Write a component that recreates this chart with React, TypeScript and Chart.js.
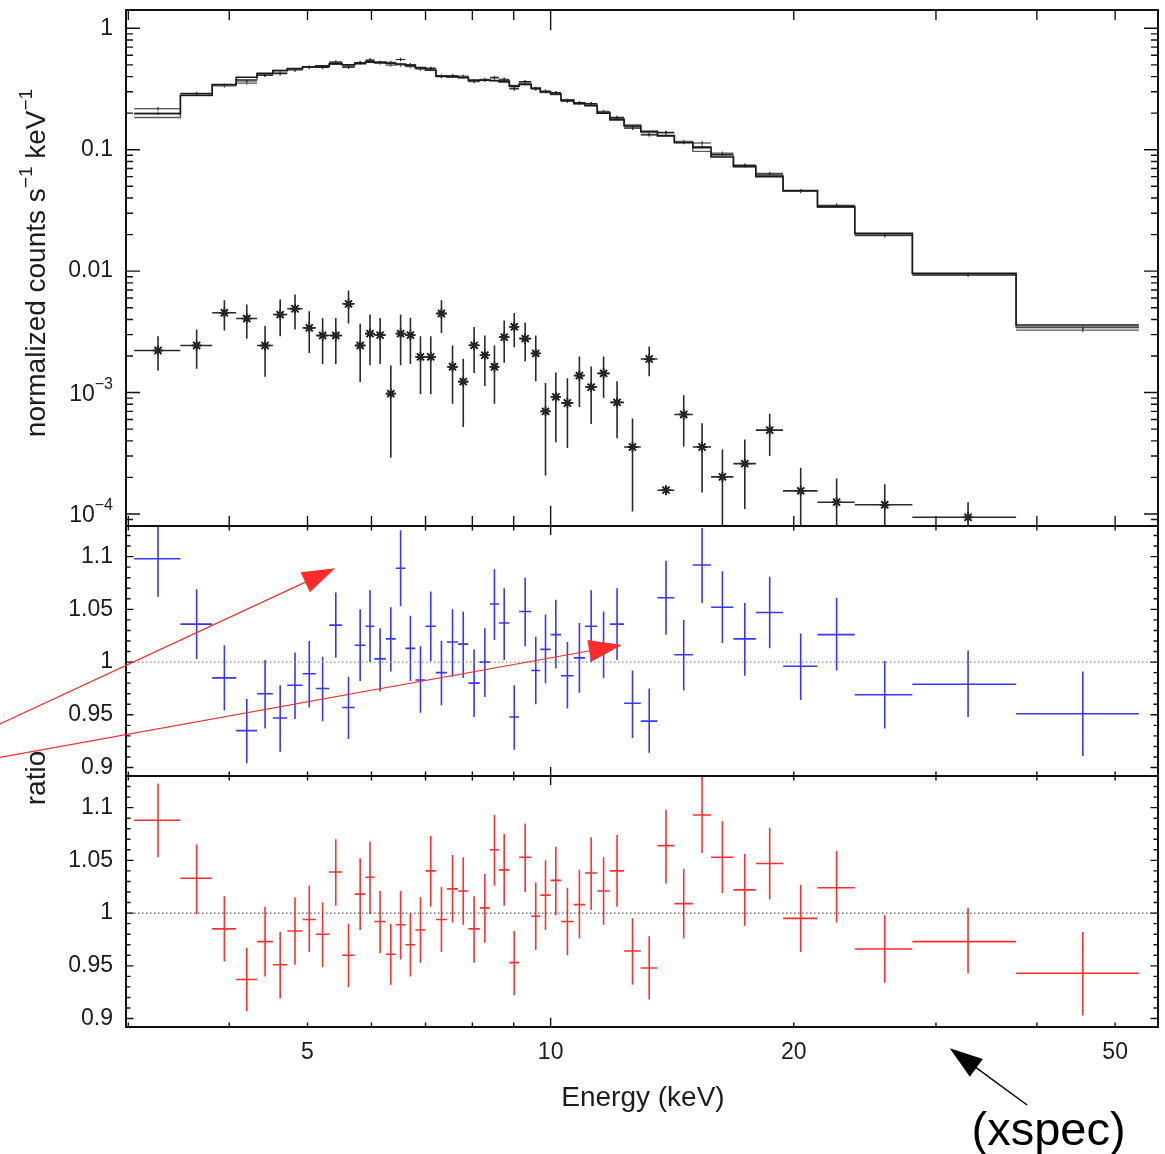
import React, { useEffect, useRef } from 'react';
import { Chart, registerables } from 'chart.js';

Chart.register(...registerables);

const FONT = '"Liberation Sans", Arial, Helvetica, sans-serif';

// ---------------- data (energy bins in keV) ----------------
const binEdges = [
  3.05, 3.48, 3.81, 4.08, 4.33, 4.53, 4.72, 4.93, 5.12, 5.32, 5.52, 5.72, 5.9, 6.05, 6.25, 6.43,
  6.61, 6.8, 7.0, 7.21, 7.44, 7.68, 7.91, 8.17, 8.41, 8.63, 8.89, 9.14, 9.46, 9.71, 10.0, 10.3,
  10.68, 11.03, 11.42, 11.84, 12.33, 12.93, 13.56, 14.23, 15.0, 15.8, 16.84, 17.95, 19.4, 21.4,
  23.8, 28.05, 37.7, 53.5,
];

// folded model, spectrum A and B (normalized counts s^-1 keV^-1)
const modelA = [
  0.198, 0.281, 0.344, 0.395, 0.425, 0.447, 0.467, 0.482, 0.488, 0.51, 0.5, 0.514, 0.527, 0.524,
  0.514, 0.508, 0.495, 0.474, 0.453, 0.404, 0.399, 0.392, 0.374, 0.374, 0.37, 0.367, 0.334, 0.347,
  0.319, 0.3, 0.288, 0.255, 0.242, 0.232, 0.2, 0.178, 0.157, 0.142, 0.131, 0.114, 0.104, 0.087,
  0.073, 0.06, 0.046, 0.034, 0.0205, 0.0096, 0.0036,
];
const modelB = [
  0.184, 0.279, 0.34, 0.378, 0.423, 0.452, 0.462, 0.48, 0.492, 0.505, 0.502, 0.51, 0.53, 0.52,
  0.518, 0.505, 0.498, 0.47, 0.45, 0.408, 0.396, 0.395, 0.37, 0.378, 0.372, 0.36, 0.338, 0.342,
  0.322, 0.296, 0.285, 0.258, 0.238, 0.23, 0.203, 0.175, 0.16, 0.139, 0.129, 0.116, 0.097, 0.089,
  0.072, 0.061, 0.0455, 0.0335, 0.0203, 0.0095, 0.00347,
];

// data / model ratio, spectrum A (blue)
const ratioA = [
  1.098, 1.036, 0.985, 0.935, 0.97, 0.947, 0.978, 0.989, 0.975, 1.035, 0.957, 1.016, 1.034, 1.003,
  1.022, 1.089, 1.013, 0.983, 1.034, 0.99, 1.019, 1.017, 0.98, 1.0, 1.055, 1.037, 0.948, 1.048,
  0.992, 1.012, 1.026, 0.987, 1.004, 1.034, 1.017, 1.036, 0.961, 0.944, 1.061, 1.007, 1.092, 1.052,
  1.022, 1.047, 0.996, 1.026, 0.969, 0.979, 0.951,
];
const ratioALo = [
  1.062, 1.003, 0.954, 0.904, 0.937, 0.915, 0.946, 0.957, 0.944, 1.004, 0.927, 0.982, 1.0, 0.972,
  0.991, 1.053, 0.982, 0.952, 1.001, 0.959, 0.986, 0.985, 0.948, 0.967, 1.021, 1.002, 0.917, 1.015,
  0.96, 0.98, 0.994, 0.956, 0.971, 1.0, 0.985, 1.002, 0.928, 0.914, 1.026, 0.973, 1.056, 1.018,
  0.987, 1.013, 0.964, 0.992, 0.937, 0.948, 0.911,
];
const ratioAHi = [
  1.135, 1.069, 1.016, 0.965, 1.002, 0.978, 1.009, 1.02, 1.005, 1.066, 0.986, 1.05, 1.068, 1.032,
  1.052, 1.125, 1.044, 1.015, 1.067, 1.02, 1.05, 1.048, 1.012, 1.032, 1.088, 1.07, 0.978, 1.08,
  1.024, 1.045, 1.059, 1.019, 1.037, 1.068, 1.048, 1.07, 0.992, 0.975, 1.096, 1.04, 1.127, 1.086,
  1.056, 1.081, 1.027, 1.061, 1.001, 1.011, 0.991,
];

// data / model ratio, spectrum B (red)
const ratioB = [
  1.088, 1.033, 0.985, 0.937, 0.973, 0.951, 0.983, 0.994, 0.98, 1.039, 0.96, 1.018, 1.034, 0.992,
  0.961, 0.989, 0.97, 0.984, 1.04, 0.994, 1.023, 1.021, 0.985, 1.005, 1.06, 1.041, 0.953, 1.053,
  0.997, 1.017, 1.031, 0.992, 1.008, 1.038, 1.021, 1.04, 0.964, 0.948, 1.064, 1.009, 1.093, 1.053,
  1.022, 1.047, 0.995, 1.024, 0.966, 0.973, 0.943,
];
const ratioBLo = [
  1.053, 0.999, 0.954, 0.907, 0.94, 0.919, 0.951, 0.963, 0.949, 1.007, 0.93, 0.984, 0.999, 0.962,
  0.932, 0.956, 0.94, 0.953, 1.006, 0.963, 0.991, 0.989, 0.953, 0.972, 1.026, 1.007, 0.922, 1.02,
  0.965, 0.984, 0.998, 0.96, 0.976, 1.003, 0.989, 1.006, 0.932, 0.918, 1.028, 0.976, 1.057, 1.019,
  0.988, 1.013, 0.963, 0.991, 0.934, 0.943, 0.903,
];
const ratioBHi = [
  1.123, 1.065, 1.016, 0.967, 1.006, 0.982, 1.015, 1.026, 1.01, 1.07, 0.99, 1.052, 1.068, 1.021,
  0.99, 1.021, 1.0, 1.015, 1.073, 1.025, 1.055, 1.053, 1.016, 1.037, 1.093, 1.075, 0.983, 1.085,
  1.029, 1.05, 1.063, 1.024, 1.041, 1.072, 1.053, 1.074, 0.995, 0.978, 1.098, 1.042, 1.129, 1.087,
  1.056, 1.081, 1.027, 1.059, 0.998, 1.005, 0.982,
];

// background spectrum (stars)
const bkg = [
  2.22e-3, 2.44e-3, 4.54e-3, 4.07e-3, 2.44e-3, 4.39e-3, 4.9e-3, 3.41e-3, 2.95e-3, 2.95e-3, 5.38e-3,
  2.44e-3, 3.06e-3, 2.97e-3, 9.8e-4, 3.06e-3, 2.97e-3, 1.97e-3, 1.97e-3, 4.48e-3, 1.63e-3, 1.23e-3,
  2.45e-3, 2.03e-3, 1.63e-3, 2.86e-3, 3.48e-3, 2.78e-3, 2.1e-3, 7.0e-4, 9.2e-4, 8.2e-4, 1.38e-3,
  1.11e-3, 1.44e-3, 8.3e-4, 3.56e-4, 1.89e-3, 1.57e-4, 6.6e-4, 3.56e-4, 2.02e-4, 2.6e-4, 4.9e-4,
  1.55e-4, 1.25e-4, 1.19e-4, 9.4e-5, null,
];
const bkgLo = [
  1.52e-3, 1.57e-3, 3.24e-3, 2.77e-3, 1.35e-3, 2.91e-3, 3.3e-3, 2.12e-3, 1.72e-3, 1.72e-3, 3.7e-3,
  1.22e-3, 1.68e-3, 1.72e-3, 2.9e-4, 1.68e-3, 1.72e-3, 9.7e-4, 9.7e-4, 3.1e-3, 8.1e-4, 5.2e-4,
  1.45e-3, 1.13e-3, 8.1e-4, 1.76e-3, 2.36e-3, 1.81e-3, 1.24e-3, 2.07e-4, 3.9e-4, 3.5e-4, 7.6e-4,
  5.5e-4, 9.0e-4, 4.2e-4, 1.05e-4, 1.36e-3, 1.5e-4, 3.6e-4, 1.5e-4, 5e-5, 1.1e-4, 3.0e-4,
  5e-5, 5e-5, 5e-5, 5e-5, null,
];
const bkgHi = [
  2.91e-3, 3.31e-3, 5.77e-3, 5.3e-3, 3.53e-3, 5.83e-3, 6.43e-3, 4.68e-3, 4.11e-3, 4.11e-3, 6.92e-3,
  3.68e-3, 4.4e-3, 4.11e-3, 1.67e-3, 4.4e-3, 4.11e-3, 2.91e-3, 2.91e-3, 5.77e-3, 2.44e-3, 1.9e-3,
  3.46e-3, 2.95e-3, 2.44e-3, 3.92e-3, 4.53e-3, 3.75e-3, 2.95e-3, 1.2e-3, 1.46e-3, 1.31e-3, 1.98e-3,
  1.64e-3, 1.98e-3, 1.24e-3, 6.1e-4, 2.4e-3, 1.64e-4, 9.5e-4, 5.6e-4, 3.4e-4, 4.1e-4, 6.7e-4,
  2.4e-4, 1.96e-4, 1.76e-4, 1.25e-4, null,
];

// axes
const X_MIN = 2.98;
const X_MAX = 56.5;
const TOP_MIN = 7.96e-5;
const TOP_MAX = 1.415;
const MID_MIN = 0.892;
const MID_MAX = 1.129;
const BOT_MIN = 0.892;
const BOT_MAX = 1.13;

const xTickValues = [5, 10, 20, 50];
const xTickLabels = ['5', '10', '20', '50'];
const xMajorTicks = [10];
const xMinorTicks = [3, 4, 5, 6, 7, 8, 9, 20, 30, 40, 50];
const topTickValues = [1, 0.1, 0.01, 1e-3, 1e-4];
const topTickLabels = ['1', '0.1', '0.01', '10^\u22123', '10^\u22124'];
const ratioTickValues = [1.1, 1.05, 1, 0.95, 0.9];
const ratioTickLabels = ['1.1', '1.05', '1', '0.95', '0.9'];

// annotations (keV, ratio)
const redArrows = [
  { x0: 2.08, y0: 0.9413, x1: 5.41, y1: 1.0889 },
  { x0: 2.08, y0: 0.9097, x1: 12.25, y1: 1.0162 },
];
const xspecArrow = { x0: 38.9, y0: 0.818, x1: 31.2, y1: 0.8718 };
const xspecNote = { x: 33.2, y: 0.7801, text: '(xspec)' };

// ---------------- helpers ----------------
type Pt = { x: number; y: number | null };

function stepLine(edges: number[], vals: number[]): Pt[] {
  const pts: Pt[] = [];
  vals.forEach((v, i) => {
    pts.push({ x: edges[i], y: v });
    pts.push({ x: edges[i + 1], y: v });
  });
  return pts;
}

function crossPoints(
  edges: number[],
  vals: (number | null)[],
  lo: (number | null)[],
  hi: (number | null)[],
  yMin: number,
  yMax: number
): Pt[] {
  const clamp = (v: number) => Math.min(yMax, Math.max(yMin, v));
  const pts: Pt[] = [];
  vals.forEach((v, i) => {
    if (v == null) return;
    const c = (edges[i] + edges[i + 1]) / 2;
    pts.push({ x: edges[i], y: v }, { x: edges[i + 1], y: v }, { x: c, y: null });
    pts.push({ x: c, y: clamp(lo[i] as number) }, { x: c, y: clamp(hi[i] as number) }, { x: c, y: null });
  });
  return pts;
}

function lineDs(data: Pt[], yAxisID: string, color: string, width: number, extra: any = {}) {
  return {
    type: 'line' as const,
    data,
    yAxisID,
    xAxisID: 'x',
    borderColor: color,
    borderWidth: width,
    pointRadius: 0,
    fill: false,
    tension: 0,
    spanGaps: false,
    ...extra,
  };
}

function drawArrow(ctx: CanvasRenderingContext2D, x0: number, y0: number, x1: number, y1: number, color: string, lw: number, headLen: number, headHalf: number) {
  const dx = x1 - x0;
  const dy = y1 - y0;
  const L = Math.hypot(dx, dy);
  const ux = dx / L;
  const uy = dy / L;
  const bx = x1 - ux * headLen;
  const by = y1 - uy * headLen;
  ctx.strokeStyle = color;
  ctx.fillStyle = color;
  ctx.lineWidth = lw;
  ctx.beginPath();
  ctx.moveTo(x0, y0);
  ctx.lineTo(bx + ux * 2, by + uy * 2);
  ctx.stroke();
  ctx.beginPath();
  ctx.moveTo(x1, y1);
  ctx.lineTo(bx - uy * headHalf, by + ux * headHalf);
  ctx.lineTo(bx + uy * headHalf, by - ux * headHalf);
  ctx.closePath();
  ctx.fill();
}

function drawPowLabel(ctx: CanvasRenderingContext2D, label: string, rightX: number, y: number, fs: number) {
  const [base, exp] = label.split('^');
  ctx.textBaseline = 'middle';
  ctx.textAlign = 'left';
  ctx.font = `${fs}px ${FONT}`;
  const wb = ctx.measureText(base).width;
  if (exp === undefined) {
    ctx.fillText(base, rightX - wb, y);
    return;
  }
  const fsSup = Math.round(fs * 0.68);
  ctx.font = `${fsSup}px ${FONT}`;
  const we = ctx.measureText(exp).width;
  const x0 = rightX - wb - we;
  ctx.font = `${fs}px ${FONT}`;
  ctx.fillText(base, x0, y + 2);
  ctx.font = `${fsSup}px ${FONT}`;
  ctx.fillText(exp, x0 + wb, y - 8);
}

function drawRotatedTitle(ctx: CanvasRenderingContext2D, parts: { t: string; sup: boolean }[], baseX: number, cy: number, fs: number) {
  const fsSup = Math.round(fs * 0.68);
  let total = 0;
  const widths = parts.map((p) => {
    ctx.font = `${p.sup ? fsSup : fs}px ${FONT}`;
    const w = ctx.measureText(p.t).width;
    total += w;
    return w;
  });
  ctx.save();
  ctx.translate(baseX, cy);
  ctx.rotate(-Math.PI / 2);
  ctx.textAlign = 'left';
  ctx.textBaseline = 'alphabetic';
  let x = -total / 2;
  parts.forEach((p, i) => {
    ctx.font = `${p.sup ? fsSup : fs}px ${FONT}`;
    ctx.fillText(p.t, x, p.sup ? -fs * 0.45 : 0);
    x += widths[i];
  });
  ctx.restore();
}

const framePlugin = {
  id: 'xspecFrame',
  afterDatasetsDraw(chart: any) {
    const { ctx, chartArea, scales } = chart;
    const xs = scales.x;
    const left = chartArea.left;
    const right = chartArea.right;
    const textColor = '#1c1c1c';

    const topMajor = topTickValues;
    const topMinor: number[] = [];
    for (let e = -5; e <= 0; e++) {
      for (let k = 2; k <= 9; k++) {
        const v = k * Math.pow(10, e);
        if (v > TOP_MIN && v < TOP_MAX) topMinor.push(v);
      }
    }
    const ratioMajor = ratioTickValues;
    const ratioMinor: number[] = [];
    for (let i = 85; i <= 115; i++) {
      if (i % 5 !== 0) ratioMinor.push(i / 100);
    }

    const panels = [
      { s: scales.yTop, maj: topMajor, min: topMinor, yMaj: 14, yMin: 7, xMaj: 20, xMin: 10 },
      { s: scales.yMid, maj: ratioMajor, min: ratioMinor, yMaj: 7.5, yMin: 4.5, xMaj: 9, xMin: 4.5 },
      { s: scales.yBot, maj: ratioMajor, min: ratioMinor, yMaj: 7.5, yMin: 4.5, xMaj: 9, xMin: 4.5 },
    ];

    ctx.save();
    ctx.strokeStyle = '#111';
    ctx.lineCap = 'butt';
    for (const p of panels) {
      const top = p.s.top;
      const bottom = p.s.bottom;
      ctx.lineWidth = 1.4;
      ctx.beginPath();
      const yt = (vals: number[], len: number) => {
        for (const v of vals) {
          const py = p.s.getPixelForValue(v);
          if (py < top + 1 || py > bottom - 1) continue;
          ctx.moveTo(left, py);
          ctx.lineTo(left + len, py);
          ctx.moveTo(right, py);
          ctx.lineTo(right - len, py);
        }
      };
      const xt = (vals: number[], len: number) => {
        for (const v of vals) {
          const px = xs.getPixelForValue(v);
          if (px < left || px > right) continue;
          ctx.moveTo(px, top);
          ctx.lineTo(px, top + len);
          ctx.moveTo(px, bottom);
          ctx.lineTo(px, bottom - len);
        }
      };
      yt(p.maj, p.yMaj);
      yt(p.min, p.yMin);
      xt(xMajorTicks, p.xMaj);
      xt(xMinorTicks, p.xMin);
      ctx.stroke();
      ctx.lineWidth = 2;
      ctx.strokeRect(left, top, right - left, bottom - top);
    }

    // tick labels
    ctx.fillStyle = textColor;
    const labelRight = left - 13;
    topTickValues.forEach((v, i) => {
      drawPowLabel(ctx, topTickLabels[i], labelRight, scales.yTop.getPixelForValue(v), 23);
    });
    for (const s of [scales.yMid, scales.yBot]) {
      ratioTickValues.forEach((v, i) => {
        drawPowLabel(ctx, ratioTickLabels[i], labelRight, s.getPixelForValue(v), 23);
      });
    }
    ctx.font = `23px ${FONT}`;
    ctx.textAlign = 'center';
    ctx.textBaseline = 'middle';
    xTickValues.forEach((v, i) => {
      ctx.fillText(xTickLabels[i], xs.getPixelForValue(v), chartArea.bottom + 26);
    });

    // axis titles
    ctx.font = `28px ${FONT}`;
    ctx.fillText('Energy (keV)', (left + right) / 2 + 1, chartArea.bottom + 71);
    drawRotatedTitle(
      ctx,
      [
        { t: 'normalized counts s', sup: false },
        { t: '\u22121', sup: true },
        { t: ' keV', sup: false },
        { t: '\u22121', sup: true },
      ],
      45,
      (scales.yTop.top + scales.yTop.bottom) / 2 - 5,
      28
    );
    drawRotatedTitle(ctx, [{ t: 'ratio', sup: false }], 45, scales.yMid.bottom + 2, 28);

    // annotations
    for (const a of redArrows) {
      drawArrow(
        ctx,
        xs.getPixelForValue(a.x0),
        scales.yMid.getPixelForValue(a.y0),
        xs.getPixelForValue(a.x1),
        scales.yMid.getPixelForValue(a.y1),
        '#ff2a2a',
        1.2,
        33,
        11
      );
    }
    drawArrow(
      ctx,
      xs.getPixelForValue(xspecArrow.x0),
      scales.yBot.getPixelForValue(xspecArrow.y0),
      xs.getPixelForValue(xspecArrow.x1),
      scales.yBot.getPixelForValue(xspecArrow.y1),
      '#000',
      1.4,
      33,
      11
    );
    ctx.fillStyle = '#000';
    ctx.font = `47px ${FONT}`;
    ctx.textAlign = 'left';
    ctx.textBaseline = 'alphabetic';
    ctx.fillText(xspecNote.text, xs.getPixelForValue(xspecNote.x), scales.yBot.getPixelForValue(xspecNote.y));
    ctx.restore();
  },
};

export default function App() {
  const ref = useRef<HTMLCanvasElement>(null);

  useEffect(() => {
    const canvas = ref.current;
    if (!canvas) return;

    const srcA = modelA.map((m, i) => m * ratioA[i]);
    const srcALo = modelA.map((m, i) => m * ratioALo[i]);
    const srcAHi = modelA.map((m, i) => m * ratioAHi[i]);
    const srcB = modelB.map((m, i) => m * ratioB[i]);
    const srcBLo = modelB.map((m, i) => m * ratioBLo[i]);
    const srcBHi = modelB.map((m, i) => m * ratioBHi[i]);

    const starPts: Pt[] = [];
    bkg.forEach((v, i) => {
      if (v != null) starPts.push({ x: (binEdges[i] + binEdges[i + 1]) / 2, y: v });
    });

    const hidden = (extra: any) => ({
      display: true,
      ticks: { display: false },
      grid: { display: false },
      border: { display: false },
      title: { display: false },
      ...extra,
    });

    const chart = new Chart(canvas, {
      type: 'line',
      data: {
        datasets: [
          lineDs(stepLine(binEdges, modelA), 'yTop', '#1a1a1a', 1.6),
          lineDs(stepLine(binEdges, modelB), 'yTop', '#5a5a5a', 1.4),
          lineDs(crossPoints(binEdges, srcA, srcALo, srcAHi, TOP_MIN, TOP_MAX), 'yTop', '#222', 1.2),
          lineDs(crossPoints(binEdges, srcB, srcBLo, srcBHi, TOP_MIN, TOP_MAX), 'yTop', '#555', 1.2),
          lineDs(crossPoints(binEdges, bkg, bkgLo, bkgHi, TOP_MIN, TOP_MAX), 'yTop', '#2a2a2a', 1.6),
          lineDs(starPts, 'yTop', '#111', 0, {
            showLine: false,
            pointRadius: 5,
            pointStyle: 'star',
            pointBorderColor: '#111',
            pointBorderWidth: 1.8,
            pointBackgroundColor: '#111',
          }),
          lineDs([{ x: X_MIN, y: 1 }, { x: X_MAX, y: 1 }], 'yMid', '#8a8a8a', 1.2, { borderDash: [1.5, 2.5] }),
          lineDs(crossPoints(binEdges, ratioA, ratioALo, ratioAHi, MID_MIN, MID_MAX), 'yMid', 'rgba(20,20,255,0.85)', 1.6),
          lineDs([{ x: X_MIN, y: 1 }, { x: X_MAX, y: 1 }], 'yBot', '#555', 1.2, { borderDash: [1.5, 2.5] }),
          lineDs(crossPoints(binEdges, ratioB, ratioBLo, ratioBHi, BOT_MIN, BOT_MAX), 'yBot', 'rgba(255,10,10,0.85)', 1.6),
        ] as any,
      },
      options: {
        animation: false,
        responsive: false,
        devicePixelRatio: 1,
        events: [],
        layout: { padding: { left: 126, right: 7, top: 10, bottom: 127 } },
        plugins: { legend: { display: false }, tooltip: { enabled: false } },
        scales: {
          x: hidden({
            type: 'logarithmic',
            position: 'bottom',
            min: X_MIN,
            max: X_MAX,
            afterFit: (s: any) => {
              s.height = 0;
            },
          }),
          yTop: hidden({
            type: 'logarithmic',
            position: 'left',
            min: TOP_MIN,
            max: TOP_MAX,
            stack: 'panels',
            stackWeight: 516,
            weight: 3,
            afterFit: (s: any) => {
              s.width = 0;
            },
          }),
          yMid: hidden({
            type: 'linear',
            position: 'left',
            min: MID_MIN,
            max: MID_MAX,
            stack: 'panels',
            stackWeight: 250,
            weight: 2,
            afterFit: (s: any) => {
              s.width = 0;
            },
          }),
          yBot: hidden({
            type: 'linear',
            position: 'left',
            min: BOT_MIN,
            max: BOT_MAX,
            stack: 'panels',
            stackWeight: 251,
            weight: 1,
            afterFit: (s: any) => {
              s.width = 0;
            },
          }),
        } as any,
      },
      plugins: [framePlugin],
    });

    return () => chart.destroy();
  }, []);

  return (
    <div style={{ position: 'absolute', left: 0, top: 0, width: 1165, height: 1154, background: '#fff' }}>
      <canvas ref={ref} width={1165} height={1154} style={{ width: 1165, height: 1154, display: 'block' }} />
    </div>
  );
}
